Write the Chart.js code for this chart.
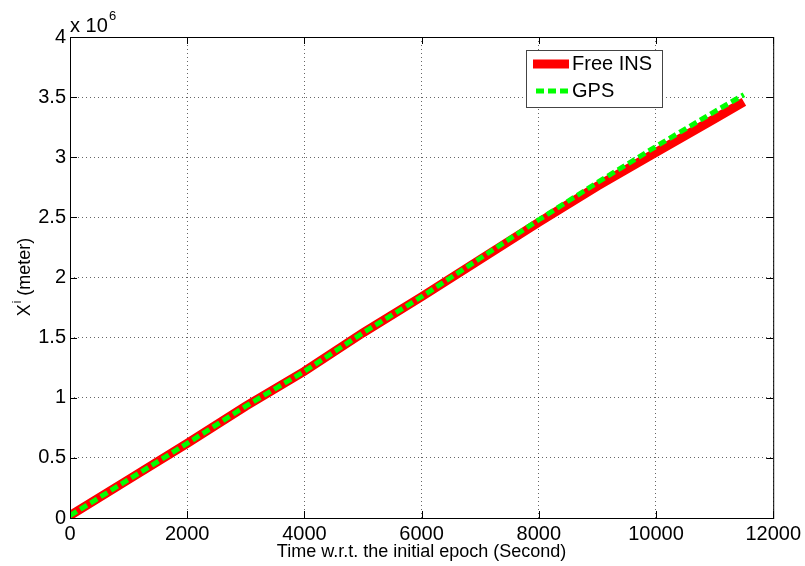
<!DOCTYPE html>
<html>
<head>
<meta charset="utf-8">
<script src="https://cdn.jsdelivr.net/npm/chart.js@4"></script>
<style>
  html, body { margin: 0; padding: 0; background: #fff; }
  #wrap { width: 805px; height: 566px; position: relative; }
</style>
</head>
<body>
<div id="wrap"><canvas id="chart"></canvas></div>
<script>
'use strict';

// values (time in s, position in m)
const timeSec = [0, 1000, 2000, 3000, 4000, 5000, 6000, 7000, 8000, 9000, 10000, 11000, 11500];
const freeIns = [0.02e6, 0.32e6, 0.62e6, 0.93e6, 1.22e6, 1.54e6, 1.84e6, 2.15e6, 2.46e6, 2.76e6, 3.04e6, 3.32e6, 3.46e6];
const gps = [0.02e6, 0.32e6, 0.62e6, 0.93e6, 1.22e6, 1.54e6, 1.84e6, 2.16e6, 2.48e6, 2.79e6, 3.09e6, 3.38e6, 3.52e6];
const xTicks = [0, 2000, 4000, 6000, 8000, 10000, 12000];
const yTicks = [0, 0.5, 1, 1.5, 2, 2.5, 3, 3.5, 4];

const FONT = "'Liberation Sans', Arial, Helvetica, sans-serif";

function toPoints(xs, ys) {
  let pts = [];
  for (let i = 0; i < xs.length; i++) {
    pts.push({ x: xs[i], y: ys[i] });
  }
  return pts;
}

// box, inward ticks, legend, axis titles, exponent
const matlabLook = {
  id: 'matlabLook',
  afterDraw(chart) {
    const ctx = chart.ctx;
    const a = chart.chartArea;
    const xs = chart.scales.x;
    const ys = chart.scales.y;
    ctx.save();
    ctx.strokeStyle = '#000';
    ctx.lineWidth = 1;
    ctx.setLineDash([]);
    ctx.strokeRect(a.left + 0.5, a.top + 0.5, a.right - a.left, a.bottom - a.top);

    const tl = 7;
    ctx.beginPath();
    xTicks.forEach(v => {
      const px = Math.round(xs.getPixelForValue(v)) + 0.5;
      ctx.moveTo(px, a.bottom); ctx.lineTo(px, a.bottom - tl);
      ctx.moveTo(px, a.top); ctx.lineTo(px, a.top + tl);
    });
    yTicks.forEach(v => {
      const py = Math.round(ys.getPixelForValue(v * 1e6)) + 0.5;
      ctx.moveTo(a.left, py); ctx.lineTo(a.left + tl, py);
      ctx.moveTo(a.right, py); ctx.lineTo(a.right - tl, py);
    });
    ctx.stroke();

    // exponent
    ctx.fillStyle = '#000';
    ctx.textBaseline = 'alphabetic';
    ctx.textAlign = 'left';
    ctx.font = '20px ' + FONT;
    ctx.fillText('x 10', 70, 32);
    ctx.font = '13px ' + FONT;
    ctx.fillText('6', 109, 20);

    // x title
    ctx.font = '18px ' + FONT;
    ctx.textAlign = 'center';
    ctx.textBaseline = 'middle';
    ctx.fillText('Time w.r.t. the initial epoch (Second)', (a.left + a.right) / 2, 552);

    // y title with superscript
    ctx.save();
    ctx.translate(23, (a.top + a.bottom) / 2);
    ctx.rotate(-Math.PI / 2);
    ctx.textAlign = 'left';
    ctx.textBaseline = 'alphabetic';
    ctx.font = '18px ' + FONT;
    const w1 = ctx.measureText('X').width;
    ctx.font = '12px ' + FONT;
    const w2 = ctx.measureText('i').width;
    ctx.font = '18px ' + FONT;
    const w3 = ctx.measureText(' (meter)').width;
    let sx = -(w1 + w2 + w3) / 2;
    ctx.fillText('X', sx, 7);
    ctx.font = '12px ' + FONT;
    ctx.fillText('i', sx + w1 + 1, -2);
    ctx.font = '18px ' + FONT;
    ctx.fillText(' (meter)', sx + w1 + w2 + 1, 7);
    ctx.restore();

    // legend
    ctx.fillStyle = '#fff';
    ctx.fillRect(526, 50, 136, 57);
    ctx.strokeStyle = '#444';
    ctx.lineWidth = 1;
    ctx.strokeRect(526.5, 50.5, 136, 57);

    ctx.strokeStyle = 'rgb(255,0,0)';
    ctx.lineWidth = 9;
    ctx.beginPath();
    ctx.moveTo(533, 64); ctx.lineTo(569, 64);
    ctx.stroke();

    ctx.strokeStyle = 'rgb(0,255,0)';
    ctx.lineWidth = 5;
    ctx.setLineDash([8, 4]);
    ctx.beginPath();
    ctx.moveTo(536, 91); ctx.lineTo(569, 91);
    ctx.stroke();
    ctx.setLineDash([]);

    ctx.fillStyle = '#000';
    ctx.font = '20px ' + FONT;
    ctx.textAlign = 'left';
    ctx.textBaseline = 'middle';
    ctx.fillText('Free INS', 572, 64);
    ctx.fillText('GPS', 572, 91);
    ctx.restore();
  }
};

const ctx = document.getElementById('chart');

let config = {
  type: 'line',
  data: {
    datasets: [
      {
        label: 'Free INS',
        data: toPoints(timeSec, freeIns),
        borderColor: 'rgb(255, 0, 0)',
        borderWidth: 9,
        pointRadius: 0,
        tension: 0,
        order: 1
      },
      {
        label: 'GPS',
        data: toPoints(timeSec, gps),
        borderColor: 'rgb(0, 255, 0)',
        borderWidth: 5,
        borderDash: [8, 4],
        pointRadius: 0,
        tension: 0,
        order: 0
      }
    ]
  },
  options: {
    responsive: true,
    maintainAspectRatio: false,
    animation: false,
    layout: { padding: { top: 37, right: 31, left: 0, bottom: 0 } },
    plugins: {
      legend: { display: false },
      tooltip: { enabled: false }
    },
    scales: {
      x: {
        type: 'linear',
        min: 0,
        max: 12000,
        afterFit: (s) => { s.height = 48; },
        afterBuildTicks: (s) => { s.ticks = xTicks.map(v => ({ value: v })); },
        ticks: {
          padding: 4,
          maxRotation: 0,
          color: '#000',
          font: { family: FONT, size: 20 },
          callback: (v) => String(v)
        },
        grid: { drawTicks: false, color: 'rgba(0,0,0,0.6)', lineWidth: 1 },
        border: { display: false, dash: [1, 3] }
      },
      y: {
        type: 'linear',
        min: 0,
        max: 4e6,
        afterFit: (s) => { s.width = 70; },
        afterBuildTicks: (s) => { s.ticks = yTicks.map(v => ({ value: v * 1e6 })); },
        ticks: {
          padding: 4,
          color: '#000',
          font: { family: FONT, size: 20 },
          callback: (v) => String(v / 1e6)
        },
        grid: { drawTicks: false, color: 'rgba(0,0,0,0.6)', lineWidth: 1 },
        border: { display: false, dash: [1, 3] }
      }
    }
  },
  plugins: [matlabLook]
};

// eslint-disable-next-line no-undef
new Chart(ctx, config);
</script>
</body>
</html>
